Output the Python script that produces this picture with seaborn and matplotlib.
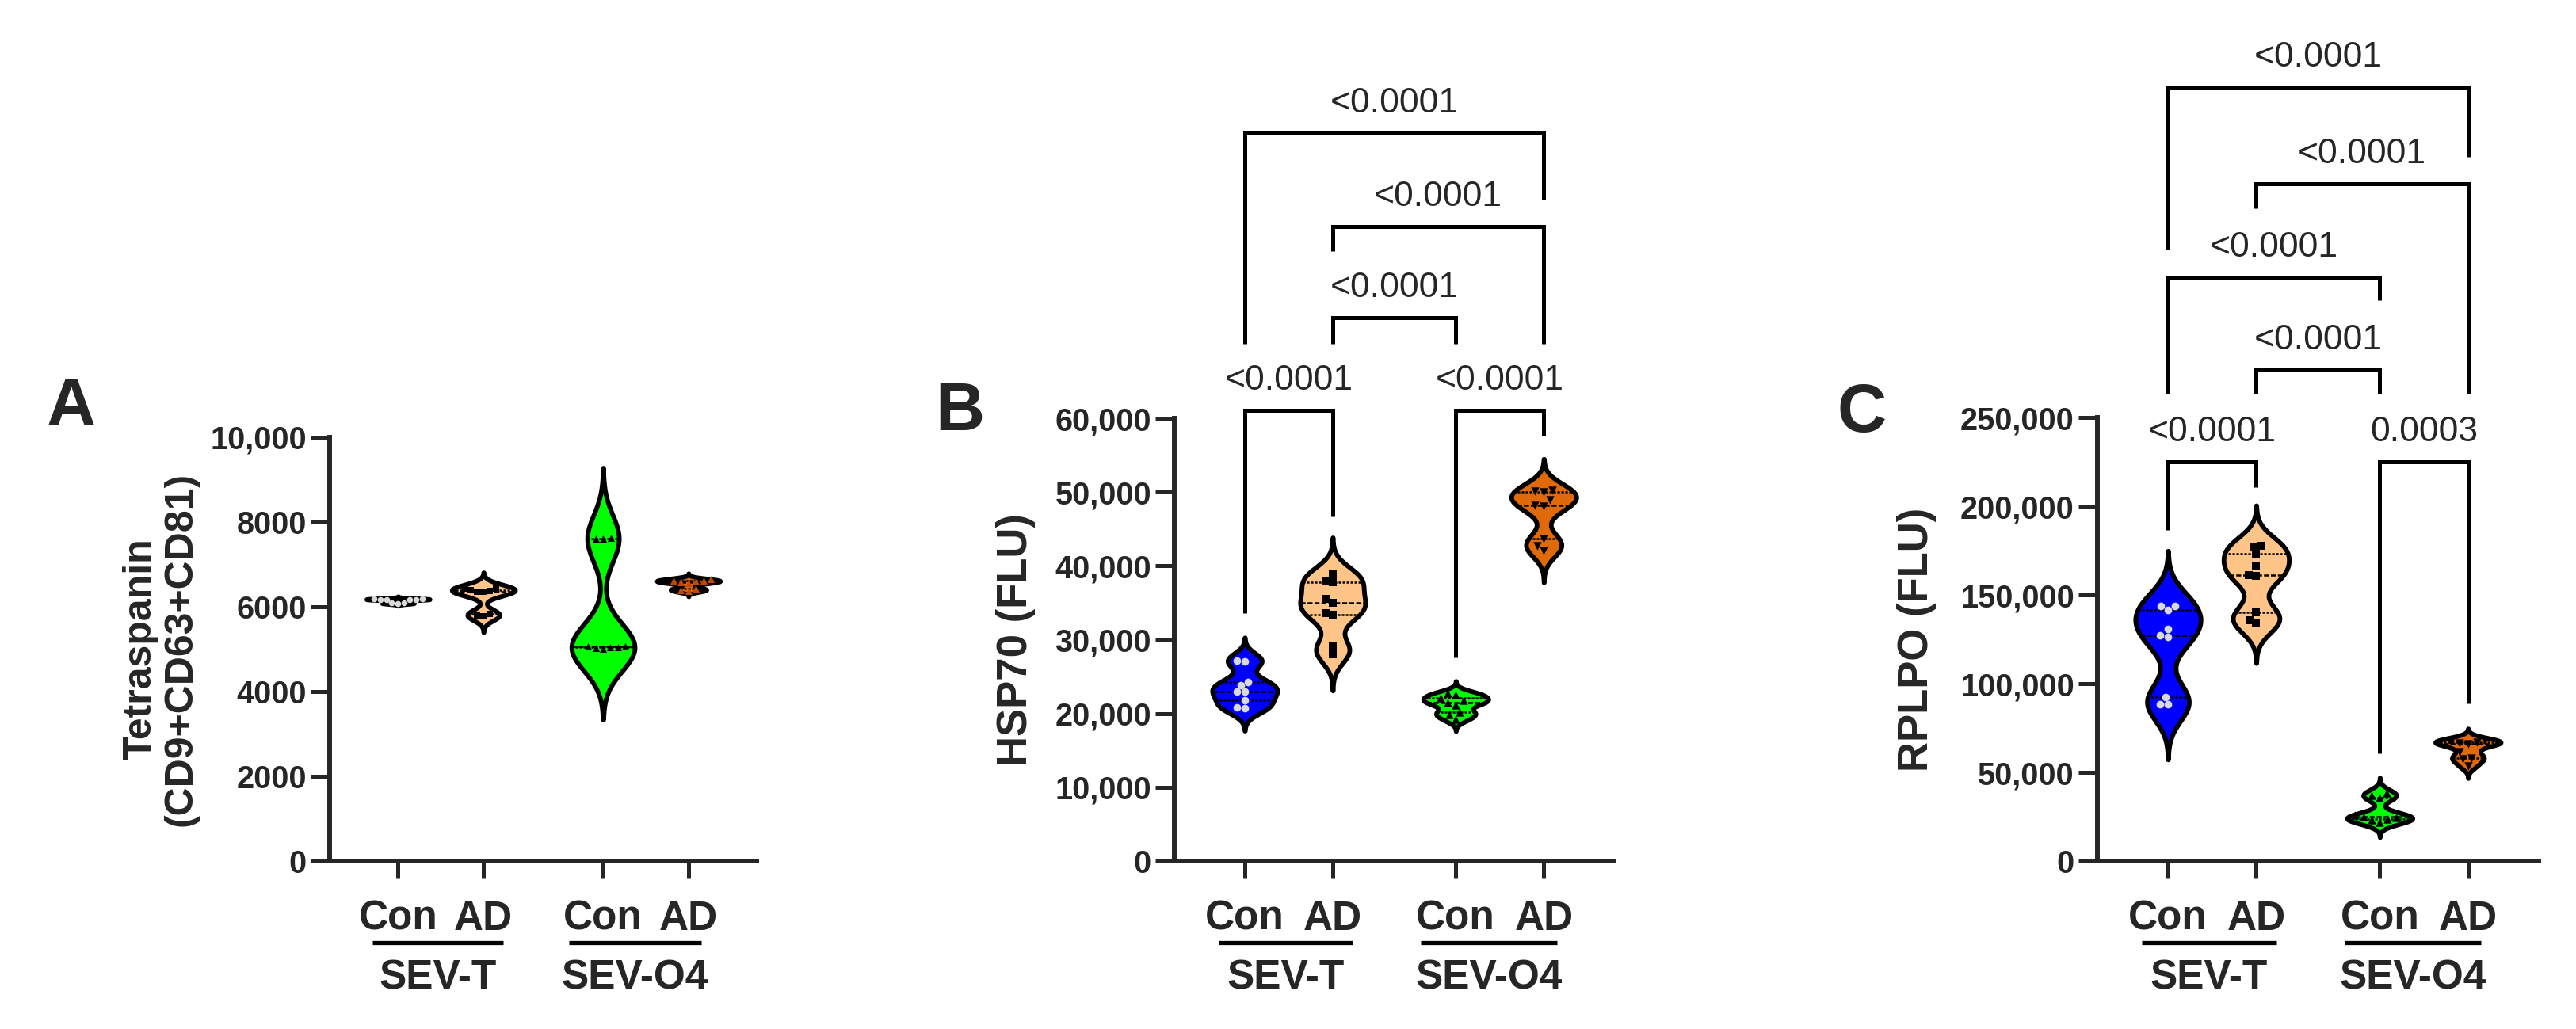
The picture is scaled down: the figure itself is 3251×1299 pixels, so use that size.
import numpy as np
import pandas as pd
import seaborn as sns
import matplotlib.pyplot as plt
from matplotlib import transforms as mtransforms

# Groups and x positions (gap between the two sEV sources)
groups = ['SEV-T Con', 'SEV-T AD', 'SEV-O4 Con', 'SEV-O4 AD']
positions = [0, 1, 2.4, 3.4]
tick_labels = ['Con', 'AD', 'Con', 'AD']
set_labels = ['SEV-T', 'SEV-O4']
violin_colors = ['#0000FF', '#FFC488', '#00FF00', '#E06A0A']

# Panel A: Tetraspanin (CD9+CD63+CD81)
tetra_con_t = [6180, 6175, 6170, 6175, 6185, 6170, 6090, 6085, 6080]
tetra_ad_t = [6430, 6420, 6400, 6380, 6360, 6350, 5830, 5800, 5780]
tetra_con_o4 = [7620, 7610, 7600, 5070, 5060, 5050, 5040, 5020, 5000]
tetra_ad_o4 = [6650, 6620, 6620, 6600, 6580, 6560, 6420, 6400, 6380]

# Panel B: HSP70 (FLU)
hsp_con_t = [27200, 27100, 24300, 23850, 22950, 22950, 21800, 20800, 20750]
hsp_ad_t = [38900, 38050, 37800, 35550, 35000, 33650, 33400, 29050, 28050]
hsp_con_o4 = [22800, 22500, 22100, 21800, 21500, 21200, 20200, 19900, 19200]
hsp_ad_o4 = [50200, 50100, 50000, 48900, 48200, 48100, 43650, 42750, 42050]

# Panel C: RPLPO (FLU)
rplpo_con_t = [143900, 143800, 141600, 130900, 127400, 126400, 92300, 88300, 88200]
rplpo_ad_t = [177900, 176700, 173000, 166000, 161000, 160600, 140100, 135600, 134100]
rplpo_con_o4 = [38500, 37000, 35500, 26000, 25000, 24500, 23800, 23000, 22000]
rplpo_ad_o4 = [67800, 67400, 67000, 66600, 66200, 61600, 58200, 57400, 53600]

# y ticks
tetra_ticks = [0, 2000, 4000, 6000, 8000, 10000]
tetra_ticklabels = ['0', '2000', '4000', '6000', '8000', '10,000']
hsp_ticks = [0, 10000, 20000, 30000, 40000, 50000, 60000]
hsp_ticklabels = ['0', '10,000', '20,000', '30,000', '40,000', '50,000', '60,000']
rplpo_ticks = [0, 50000, 100000, 150000, 200000, 250000]
rplpo_ticklabels = ['0', '50,000', '100,000', '150,000', '200,000', '250,000']

# comparisons: (group i, group j, bar level, leg end i, leg end j, p value)
hsp_brackets = [
    (0, 1, 61070, 33600, 46700, '<0.0001'),
    (2, 3, 61070, 27550, 57600, '<0.0001'),
    (1, 2, 73590, 70120, 70120, '<0.0001'),
    (1, 3, 85930, 82640, 70120, '<0.0001'),
    (0, 3, 98630, 70120, 89680, '<0.0001'),
]
rplpo_brackets = [
    (0, 1, 225000, 186500, 210700, '<0.0001'),
    (2, 3, 225000, 60500, 88800, '0.0003'),
    (1, 2, 276800, 263200, 263200, '<0.0001'),
    (0, 2, 329000, 263200, 316000, '<0.0001'),
    (1, 3, 381600, 368000, 263200, '<0.0001'),
    (0, 3, 436000, 344500, 396700, '<0.0001'),
]

sns.set_style('ticks')
plt.rcParams['font.family'] = ['Liberation Sans', 'DejaVu Sans']

fig = plt.figure(figsize=(32.51, 12.99), dpi=100)

panels = [
    dict(letter='A', letter_xy=(90, 515), rect=[0.1280, 0.1632, 0.1658, 0.4119],
         data=[tetra_con_t, tetra_ad_t, tetra_con_o4, tetra_ad_o4],
         ticks=tetra_ticks, ticklabels=tetra_ticklabels,
         ylabel='Tetraspanin\n(CD9+CD63+CD81)', ylabel_xy=(-0.395, 0.5), ylabel_size=36,
         markers=['o', 's', '^', '^'], point_colors=['#D9D9D9', 'black', 'black', '#C04A00'],
         point_sizes=[5.5, 5.5, 6.5, 6.5], brackets=[]),
    dict(letter='B', letter_xy=(1211, 521), rect=[0.4559, 0.1632, 0.1707, 0.4303],
         data=[hsp_con_t, hsp_ad_t, hsp_con_o4, hsp_ad_o4],
         ticks=hsp_ticks, ticklabels=hsp_ticklabels,
         ylabel='HSP70 (FLU)', ylabel_xy=(-0.360, 0.5), ylabel_size=38,
         markers=['o', 's', '^', 'v'], point_colors=['#D9D9D9', 'black', 'black', 'black'],
         point_sizes=[7, 6.5, 7.5, 7.5], brackets=hsp_brackets),
    dict(letter='C', letter_xy=(2350, 523), rect=[0.8142, 0.1632, 0.1713, 0.4311],
         data=[rplpo_con_t, rplpo_ad_t, rplpo_con_o4, rplpo_ad_o4],
         ticks=rplpo_ticks, ticklabels=rplpo_ticklabels,
         ylabel='RPLPO (FLU)', ylabel_xy=(-0.409, 0.5), ylabel_size=38,
         markers=['o', 's', '^', 'v'], point_colors=['#D9D9D9', 'black', 'black', 'black'],
         point_sizes=[7, 6.5, 7.5, 7.5], brackets=rplpo_brackets),
]

group_spans = [(-0.30, 1.23), (2.00, 3.55)]

for p in panels:
    ax = fig.add_axes(p['rect'])

    df = pd.DataFrame({
        'pos': np.repeat(positions, [len(v) for v in p['data']]),
        'value': np.concatenate(p['data']),
        'group': np.repeat(groups, [len(v) for v in p['data']]),
    })

    sns.violinplot(data=df, x='pos', y='value', hue='group', hue_order=groups,
                   palette=dict(zip(groups, violin_colors)), saturation=1,
                   native_scale=True, orient='x', width=0.74, density_norm='width',
                   bw_method=0.43, cut=3, inner='quart', linecolor='black', linewidth=4.2,
                   inner_kws=dict(linewidth=1.8, color='black'), legend=False, ax=ax)

    # individual points
    for pos, vals, m, c, sz in zip(positions, p['data'], p['markers'],
                                   p['point_colors'], p['point_sizes']):
        sns.swarmplot(x=np.full(len(vals), pos), y=vals, native_scale=True, orient='x',
                      marker=m, color=c, size=sz, linewidth=0, zorder=3, ax=ax)

    ax.set_xlim(-0.8, 4.2)
    ax.set_ylim(0, p['ticks'][-1])
    ax.set_xticks(positions, tick_labels)
    ax.set_yticks(p['ticks'], p['ticklabels'])
    ax.set_xlabel('')
    ax.tick_params(axis='x', length=16, width=3.6, pad=19, labelsize=37)
    ax.tick_params(axis='y', length=17, width=3.6, pad=4, labelsize=28.5)
    for lab in ax.get_xticklabels() + ax.get_yticklabels():
        lab.set_fontweight('bold')
    sns.despine(ax=ax)
    for s in ['left', 'bottom']:
        ax.spines[s].set_linewidth(4.3)

    ax.set_ylabel(p['ylabel'], fontsize=p['ylabel_size'], fontweight='bold',
                  va='center', ha='center', multialignment='center', linespacing=1.15)
    ax.yaxis.set_label_coords(*p['ylabel_xy'])

    # group underlines and names under the x tick labels
    base = mtransforms.blended_transform_factory(ax.transData, ax.transAxes)
    line_tr = mtransforms.offset_copy(base, fig=fig, y=-74, units='points')
    text_tr = mtransforms.offset_copy(base, fig=fig, y=-116, units='points')
    for (x0, x1), name in zip(group_spans, set_labels):
        ax.plot([x0, x1], [0, 0], transform=line_tr, color='black', lw=3.8,
                clip_on=False, solid_capstyle='butt')
        ax.text((x0 + x1) / 2, 0, name, transform=text_tr, ha='center',
                va='baseline', fontsize=37, fontweight='bold')

    # multiple comparison brackets
    for i, j, bar, end_i, end_j, label in p['brackets']:
        xi, xj = positions[i], positions[j]
        ax.plot([xi, xi, xj, xj], [end_i, bar, bar, end_j], color='black', lw=3.6,
                clip_on=False, solid_joinstyle='miter', solid_capstyle='butt')
        ax.annotate(label, xy=((xi + xj) / 2, bar), xytext=(0, 19),
                    textcoords='offset points', ha='center', va='baseline',
                    fontsize=32, annotation_clip=False)

    fig.text(p['letter_xy'][0] / 3251, 1 - p['letter_xy'][1] / 1299, p['letter'],
             fontsize=62, fontweight='bold', ha='center', va='center')

fig.savefig('out.png', dpi=100, facecolor='white')
